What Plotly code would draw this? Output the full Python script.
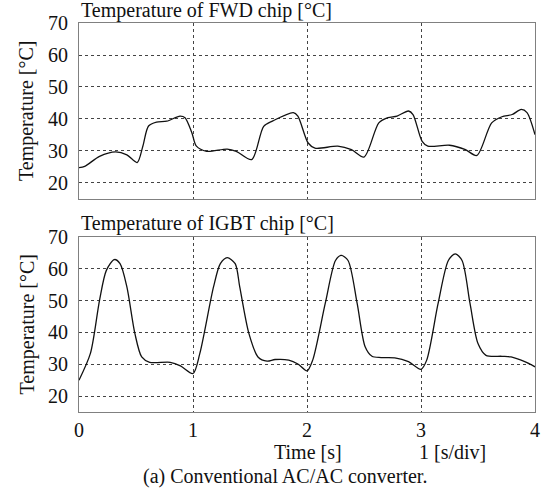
import plotly.graph_objects as go

# ---- data ----
fwd_time = [0.0, 0.05, 0.18, 0.32, 0.42, 0.51, 0.56, 0.61, 0.68, 0.77, 0.886, 0.93, 0.99, 1.03,
            1.12, 1.30, 1.38, 1.515, 1.62, 1.70, 1.88, 1.92, 2.01, 2.07, 2.27, 2.39, 2.50,
            2.63, 2.71, 2.79, 2.89, 2.93, 3.01, 3.06, 3.25, 3.39, 3.49, 3.62, 3.71, 3.80,
            3.88, 3.93, 4.0]
fwd_temp = [24.8, 25.2, 28.3, 29.7, 28.8, 26.4, 31.5, 37.8, 39.0, 39.3, 40.9, 40.4, 35.7, 31.5,
            29.9, 30.6, 29.9, 27.3, 37.7, 39.4, 42.0, 40.9, 32.5, 30.9, 31.5, 30.4, 28.1,
            38.8, 40.4, 40.9, 42.5, 41.4, 33.0, 31.5, 31.8, 30.4, 28.6, 38.8, 40.7, 41.4,
            43.0, 42.0, 35.1]

igbt_time = [0.0, 0.10, 0.18, 0.24, 0.31, 0.36, 0.42, 0.49, 0.55, 0.62, 0.80, 0.89, 1.00,
             1.06, 1.18, 1.24, 1.30, 1.37, 1.41, 1.49, 1.57, 1.65, 1.72, 1.84, 1.92, 2.00,
             2.05, 2.16, 2.25, 2.30, 2.36, 2.44, 2.51, 2.57, 2.65, 2.77, 2.89, 3.00, 3.05,
             3.15, 3.24, 3.30, 3.36, 3.43, 3.50, 3.57, 3.71, 3.79, 3.91, 4.0]
igbt_temp = [25.0, 33.4, 50.1, 59.5, 62.9, 61.6, 54.3, 39.7, 32.3, 30.6, 30.6, 29.5, 27.1,
             33.4, 54.3, 61.6, 63.5, 61.6, 54.3, 39.7, 32.3, 31.0, 31.5, 31.3, 30.1, 27.9,
             31.3, 49.1, 62.6, 64.2, 62.6, 49.1, 35.5, 32.5, 32.1, 32.0, 30.8, 28.4, 31.3,
             49.1, 62.6, 64.7, 62.6, 49.1, 36.5, 32.8, 32.5, 32.3, 30.8, 29.2]

x_ticks = [0, 1, 2, 3, 4]
y_ticks = [20, 30, 40, 50, 60, 70]
title_top = "Temperature of FWD chip [°C]"
title_bottom = "Temperature of IGBT chip [°C]"
y_title = "Temperature [°C]"
x_title = "Time [s]"
x_div = "1 [s/div]"
caption = "(a) Conventional AC/AC converter."

FONT = "Liberation Serif, Times New Roman, serif"
FS = 20

fig = go.Figure()
fig.add_trace(go.Scatter(x=fwd_time, y=fwd_temp, mode="lines", xaxis="x", yaxis="y",
                         line=dict(color="#111111", width=1.3, shape="spline", smoothing=0.8),
                         showlegend=False))
fig.add_trace(go.Scatter(x=igbt_time, y=igbt_temp, mode="lines", xaxis="x2", yaxis="y2",
                         line=dict(color="#111111", width=1.3, shape="spline", smoothing=0.8),
                         showlegend=False))

grid = dict(showgrid=True, gridcolor="#444444", griddash="dot", gridwidth=1,
            showline=True, linecolor="#808080", linewidth=1.2, mirror=True,
            zeroline=False, ticks="", automargin=False,
            tickfont=dict(family=FONT, size=FS, color="#111111"))

fig.update_layout(
    width=550, height=497,
    margin=dict(l=79, r=15, t=23, b=85),
    paper_bgcolor="white", plot_bgcolor="white",
    font=dict(family=FONT, size=FS, color="#111111"),
    xaxis=dict(domain=[0, 1], range=[0, 4], anchor="y", tickvals=x_ticks,
               showticklabels=False, **grid),
    yaxis=dict(domain=[0.5476, 1], range=[15, 70], anchor="x", tickvals=y_ticks,
               ticklabelstandoff=6, **grid),
    xaxis2=dict(domain=[0, 1], range=[0, 4], anchor="y2", tickvals=x_ticks,
                ticklabelstandoff=0, **grid),
    yaxis2=dict(domain=[0, 0.45], range=[15, 70], anchor="x2", tickvals=y_ticks,
                ticklabelstandoff=6, **grid),
)

ann = dict(xref="paper", yref="paper", showarrow=False,
           font=dict(family=FONT, size=FS, color="#111111"))
fig.add_annotation(text=title_top, x=0, y=1.033, xanchor="left", yanchor="middle", **ann)
fig.add_annotation(text=title_bottom, x=0, y=0.4833, xanchor="left", yanchor="middle", **ann)
fig.add_annotation(text=y_title, x=-0.114, y=(0.5476 + 1) / 2, textangle=-90,
                   xanchor="center", yanchor="middle", **ann)
fig.add_annotation(text=y_title, x=-0.114, y=0.225, textangle=-90,
                   xanchor="center", yanchor="middle", **ann)
fig.add_annotation(text=x_title, x=0.502, y=-0.1028, xanchor="center", yanchor="middle", **ann)
fig.add_annotation(text=x_div, x=0.820, y=-0.1028, xanchor="center", yanchor="middle", **ann)
fig.add_annotation(text=caption, x=0.452, y=-0.167, xanchor="center", yanchor="middle", **ann)

fig.write_html("out.html", config={"displayModeBar": False},
               post_script="document.body.style.margin='0';document.body.style.overflow='hidden';")
